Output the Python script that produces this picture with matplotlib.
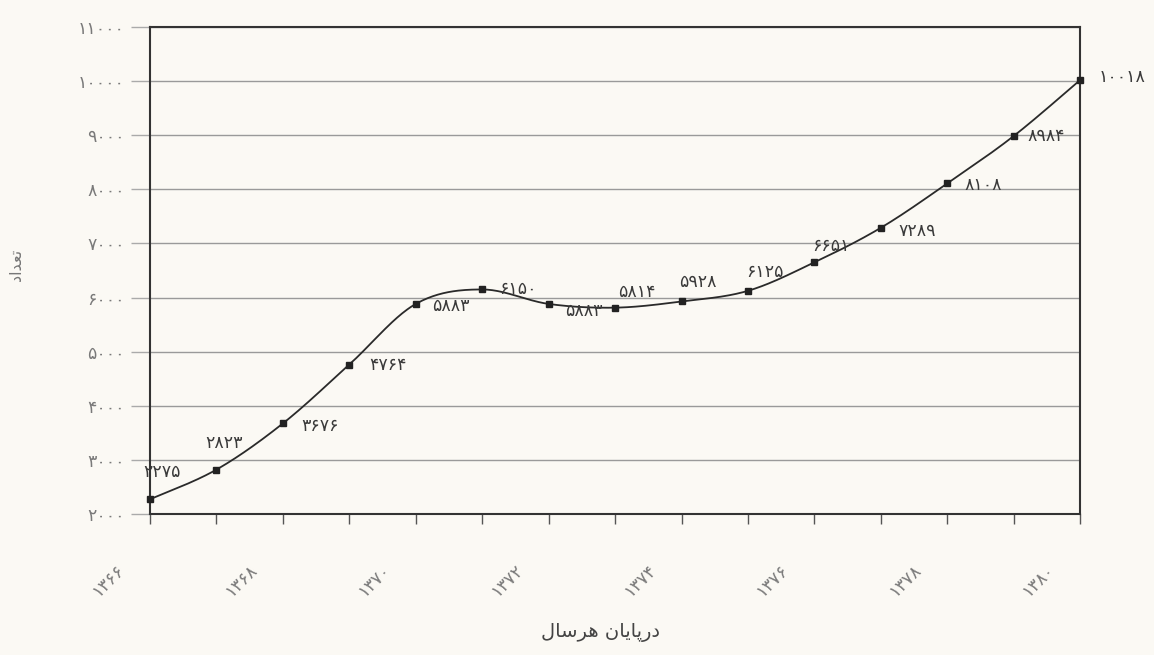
import numpy as np
import matplotlib
matplotlib.use("Agg")
import matplotlib.pyplot as plt
from matplotlib.transforms import offset_copy

# ---- data ----
years = [1366, 1367, 1368, 1369, 1370, 1371, 1372, 1373, 1374, 1375, 1376, 1377, 1378, 1379, 1380]
counts = [2275, 2823, 3676, 4764, 5883, 6150, 5883, 5814, 5928, 6125, 6651, 7289, 8108, 8984, 10018]
year_ticks = [1366, 1368, 1370, 1372, 1374, 1376, 1378, 1380]
y_ticks = [2000, 3000, 4000, 5000, 6000, 7000, 8000, 9000, 10000, 11000]
# Persian labels written in visual order with presentation forms (matplotlib does not shape Arabic)
xlabel_text = "\uFEDD\uFE8E\uFEB3\uFEAE\uFEEB \uFEE5\uFE8E\uFBFE\uFE8E\uFB58\uFEAD\uFEA9"   # درپایان هرسال
ylabel_text = "\uFEA9\uFE8D\uFEAA\uFECC\uFE97"  # تعداد

# label offsets in pixels (dx, dy, ha)
offsets = [(12, 27, 'center'), (8, 27, 'center'), (18, -3, 'left'), (20, 0, 'left'),
           (16, -2, 'left'), (17, 0, 'left'), (16, -7, 'left'), (22, 16, 'center'),
           (16, 19, 'center'), (17, 19, 'center'), (17, 16, 'center'), (18, -3, 'left'),
           (17, -2, 'left'), (14, 0, 'left'), (19, 3, 'left')]

PERSIAN = str.maketrans("0123456789", "\u06F0\u06F1\u06F2\u06F3\u06F4\u06F5\u06F6\u06F7\u06F8\u06F9")
def fa(n):
    return str(n).translate(PERSIAN)

plt.rcParams['font.family'] = ['DejaVu Sans']

bg = '#fbf9f4'
fig = plt.figure(figsize=(11.54, 6.55), dpi=100, facecolor=bg)
ax = fig.add_axes([0.130, 0.215, 0.806, 0.744])
ax.set_facecolor(bg)

# smooth curve (Catmull-Rom, like spreadsheet "smoothed line")
x = np.array(years, float)
y = np.array(counts, float)
px = np.concatenate([[x[0]], x, [x[-1]]])
py = np.concatenate([[y[0]], y, [y[-1]]])
xs, ys = [], []
t = np.linspace(0, 1, 40)
for i in range(1, len(px) - 2):
    p0x, p1x, p2x, p3x = px[i-1], px[i], px[i+1], px[i+2]
    p0y, p1y, p2y, p3y = py[i-1], py[i], py[i+1], py[i+2]
    for arr, (a0, a1, a2, a3) in ((xs, (p0x, p1x, p2x, p3x)), (ys, (p0y, p1y, p2y, p3y))):
        arr.extend(0.5 * (2*a1 + (-a0 + a2)*t + (2*a0 - 5*a1 + 4*a2 - a3)*t**2 + (-a0 + 3*a1 - 3*a2 + a3)*t**3))
ax.plot(xs, ys, color='#2a2a2a', lw=1.3, zorder=3, clip_on=False)
ax.plot(years, counts, ls='none', marker='s', ms=4, color='#222222', zorder=4, clip_on=False)

for xv, yv, (dx, dy, ha) in zip(years, counts, offsets):
    ax.annotate(fa(yv), (xv, yv), xytext=(dx, dy), textcoords='offset pixels',
                ha=ha, va='center', fontsize=12.5, color='#3a3a3a', annotation_clip=False)

ax.set_xlim(1366, 1380)
ax.set_ylim(2000, 11000)
ax.set_yticks(y_ticks)
ax.set_yticklabels([fa(v) for v in y_ticks], color='#7a7a7a', fontsize=12.5)
ax.set_xticks(years)
ax.set_xticklabels(['' for _ in years])
trans = offset_copy(ax.get_xaxis_transform(), fig=fig, x=-22, y=-46, units='dots')
for yr in year_ticks:
    ax.text(yr, 0, fa(yr), transform=trans, rotation=45,
            ha='right', va='top', fontsize=12.5, color='#7a7a7a')
ax.tick_params(axis='y', length=14, color='#aaaaaa', width=1, pad=4)
ax.tick_params(axis='x', length=7, color='#555555', width=1, direction='out')
ax.grid(axis='y', color='#9a9a9a', lw=1)
ax.set_axisbelow(True)
for s in ax.spines.values():
    s.set_color('#333333')
    s.set_linewidth(1.5)

fig.text(0.52, 0.035, xlabel_text, ha='center', va='center', fontsize=14, color='#444444')
fig.text(0.014, 0.595, ylabel_text, ha='center', va='center', rotation=90, fontsize=11.5, color='#777777')

fig.savefig('out.png', dpi=100, facecolor=bg)
